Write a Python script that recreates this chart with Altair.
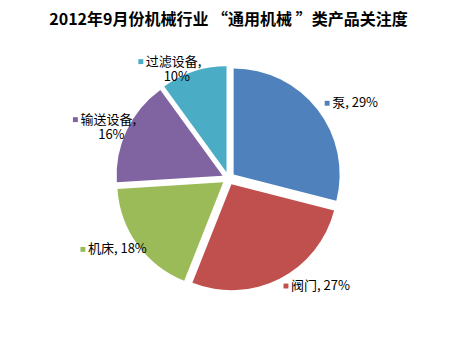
import math
import altair as alt
import pandas as pd

# ---- data ----
categories = ["泵", "阀门", "机床", "输送设备", "过滤设备"]
shares = [29, 27, 18, 16, 10]
colors = ["#4F81BD", "#C0504D", "#9BBB59", "#8064A2", "#4BACC6"]
title_text = "2012年9月份机械行业 “通用机械 ”类产品关注度"

# ---- label layout (placement only, not data) ----
label_nudge_deg = [0.5, -1.1, 10.0, -4.2, -18.9]
label_radius = [124, 122, 162, 164, 146]
label_wrap = [False, False, False, True, True]

CX, CY = 228.5, 148.4   # pie centre in plot coordinates
R = 106                 # pie radius
EXPLODE = 6.5           # slice explosion distance
FONT = "Noto Sans CJK SC"

line1 = [f"{c}," if w else f"{c}, {s}%" for c, s, w in zip(categories, shares, label_wrap)]
line2 = [f"{s}%" if w else "" for s, w in zip(shares, label_wrap)]

df = pd.DataFrame({
    "cat": categories,
    "share": shares,
    "order": list(range(len(categories))),
    "nudge": label_nudge_deg,
    "lr": label_radius,
    "line1": line1,
    "line2": line2,
})

base = (
    alt.Chart(df)
    .transform_window(cum="sum(share)", sort=[alt.SortField("order")])
    .transform_calculate(
        start="datum.cum - datum.share",
        mid="(datum.cum - datum.share / 2) * 2 * PI / 100",
    )
    .transform_calculate(
        px=f"{CX} + {EXPLODE} * sin(datum.mid)",
        py=f"{CY} - {EXPLODE} * cos(datum.mid)",
        la="datum.mid + datum.nudge * PI / 180",
    )
    .transform_calculate(
        lx=f"{CX} + datum.lr * sin(datum.la)",
        ly=f"{CY} - datum.lr * cos(datum.la)",
    )
)

color = alt.Color("cat:N", scale=alt.Scale(domain=categories, range=colors), legend=None)

pie = base.mark_arc(outerRadius=R).encode(
    theta=alt.Theta("start:Q", scale=alt.Scale(domain=[0, 100], range=[0, 2 * math.pi]), stack=False),
    theta2="cum:Q",
    x=alt.X("px:Q", scale=None, axis=None),
    y=alt.Y("py:Q", scale=None, axis=None),
    color=color,
)

squares = base.mark_point(shape="square", filled=True, size=24, opacity=1).encode(
    x=alt.X("lx:Q", scale=None, axis=None),
    y=alt.Y("ly:Q", scale=None, axis=None),
    color=color,
)

text1 = base.mark_text(align="left", baseline="middle", dx=5, fontSize=13, font=FONT, color="#000000").encode(
    x=alt.X("lx:Q", scale=None, axis=None),
    y=alt.Y("ly:Q", scale=None, axis=None),
    text="line1:N",
)

text2 = base.transform_filter("datum.line2 != ''").mark_text(
    align="center", baseline="middle", dx=36, dy=15, fontSize=13, font=FONT, color="#000000"
).encode(
    x=alt.X("lx:Q", scale=None, axis=None),
    y=alt.Y("ly:Q", scale=None, axis=None),
    text="line2:N",
)

chart = (
    alt.layer(pie, squares, text1, text2)
    .properties(
        width=457,
        height=327,
        padding={"left": 0, "top": 30, "right": 0, "bottom": 0},
        autosize="none",
        background="white",
        title=alt.TitleParams(
            text=title_text,
            font=FONT,
            fontSize=16,
            fontWeight="bold",
            anchor="middle",
            offset=2,
            color="#000000",
        ),
    )
    .configure_view(stroke=None)
)

chart.save("out.html", embed_options={"renderer": "svg", "actions": False})
